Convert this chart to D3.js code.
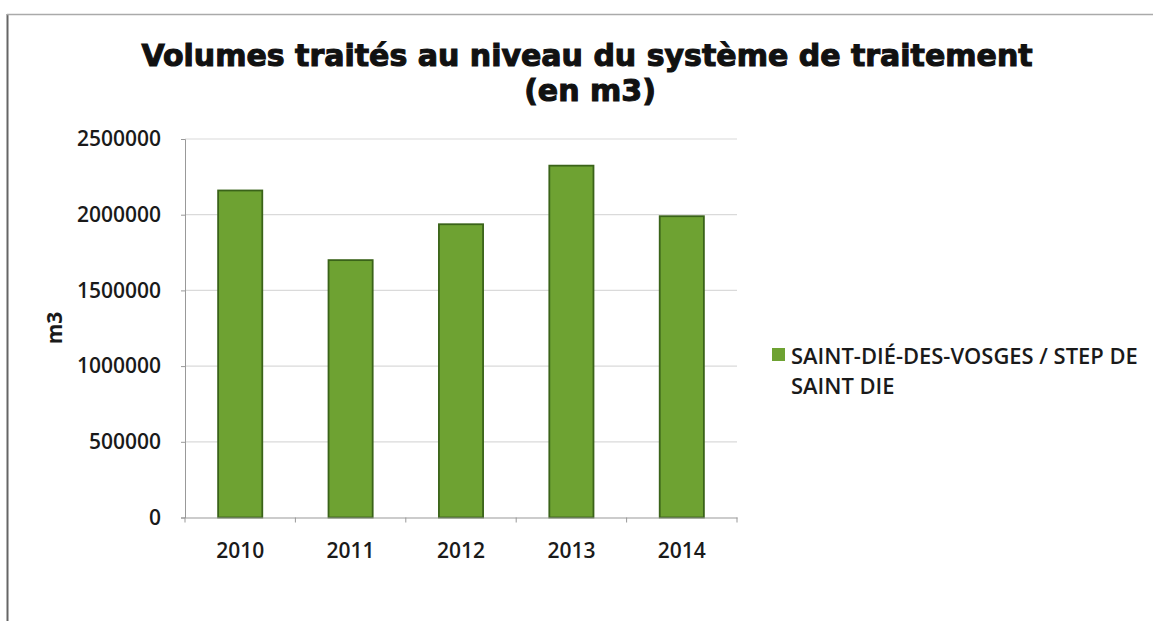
<!DOCTYPE html>
<html>
<head>
<meta charset="utf-8">
<script src="https://cdn.jsdelivr.net/npm/d3@7"></script>
<style>
	body { margin: 0; background: #fff; }
	svg { display: block; }
</style>
</head>
<body>
<svg id="chart" width="1153" height="621"></svg>
<script>
const years = ["2010", "2011", "2012", "2013", "2014"];
const volumes = [2160000, 1700000, 1937000, 2324000, 1990000];
const yTicks = [0, 500000, 1000000, 1500000, 2000000, 2500000];
const titleLines = ["Volumes traités au niveau du système de traitement", "(en m3)"];
const legendLines = ["SAINT-DIÉ-DES-VOSGES / STEP DE", "SAINT DIE"];
const yTitle = "m3";

const svg = d3.select("#chart");
const plot = { left: 185, right: 737, top: 139, bottom: 517.5 };

// frame of the chart area
svg.append("line")
	.attr("x1", 7.5).attr("x2", 7.5).attr("y1", 14).attr("y2", 621)
	.attr("stroke", "#666").attr("stroke-width", 2);
svg.append("line")
	.attr("x1", 7).attr("x2", 1153).attr("y1", 14.5).attr("y2", 14.5)
	.attr("stroke", "#aaa").attr("stroke-width", 1.5);

const x = d3.scaleBand().domain(years).range([plot.left, plot.right]).paddingInner(0.6).paddingOuter(0.3);
const xBand = d3.scaleBand().domain(years).range([plot.left, plot.right]);
const y = d3.scaleLinear().domain([0, 2500000]).range([plot.bottom, plot.top]);

// grid
svg.append("g")
	.selectAll("line")
	.data(yTicks.slice(1))
	.enter().append("line")
	.attr("x1", plot.left).attr("x2", plot.right)
	.attr("y1", d => y(d)).attr("y2", d => y(d))
	.attr("stroke", "#dadada").attr("stroke-width", 1.2);

// bars
svg.append("g")
	.selectAll("rect")
	.data(volumes)
	.enter().append("rect")
	.attr("x", (d, i) => x(years[i]))
	.attr("y", d => y(d))
	.attr("width", x.bandwidth())
	.attr("height", d => y(0) - y(d))
	.attr("fill", "#6ea232")
	.attr("stroke", "#3a6319")
	.attr("stroke-width", 1.8);

// y axis
const yAxis = d3.axisLeft(y).tickValues(yTicks).tickSize(4).tickFormat(d3.format("d")).tickPadding(20);
const gy = svg.append("g").attr("transform", `translate(${plot.left},0)`).call(yAxis);
gy.select(".domain").attr("stroke", "#999");
gy.selectAll(".tick line").attr("stroke", "#999");
gy.selectAll("text")
	.attr("fill", "#1a1a1a")
	.style("font-family", "'Open Sans', sans-serif")
	.style("font-weight", 600)
	.style("font-size", "21px");

// x axis
const xAxis = d3.axisBottom(xBand).tickSize(0).tickPadding(26);
const gx = svg.append("g").attr("transform", `translate(0,${plot.bottom})`).call(xAxis);
gx.select(".domain").attr("stroke", "#999");
gx.selectAll("text")
	.attr("fill", "#1a1a1a")
	.style("font-family", "'Open Sans', sans-serif")
	.style("font-weight", 600)
	.style("font-size", "21px");
gx.append("g")
	.selectAll("line")
	.data(years.concat(["end"]))
	.enter().append("line")
	.attr("x1", (d, i) => plot.left + i * xBand.bandwidth())
	.attr("x2", (d, i) => plot.left + i * xBand.bandwidth())
	.attr("y1", 0).attr("y2", 5)
	.attr("stroke", "#999");

// y title
svg.append("text")
	.attr("transform", "translate(62,328) rotate(-90)")
	.attr("text-anchor", "middle")
	.attr("fill", "#1a1a1a")
	.style("font-family", "'Open Sans', sans-serif")
	.style("font-weight", 700)
	.style("font-size", "21px")
	.text(yTitle);

// title (heavy face: bold plus a thin stroke)
const title = svg.append("text")
	.attr("text-anchor", "middle")
	.attr("fill", "#111")
	.attr("stroke", "#111")
	.attr("stroke-width", 1.1)
	.style("font-family", "'DejaVu Sans', sans-serif")
	.style("font-weight", 700)
	.style("font-size", "28px");
title.selectAll("tspan")
	.data(titleLines)
	.enter().append("tspan")
	.attr("x", (d, i) => i === 0 ? 587 : 590)
	.attr("y", (d, i) => 66 + i * 35)
	.text(d => d);
const firstLine = title.select("tspan").node();
const w = firstLine.getComputedTextLength();
if (w > 0) title.style("font-size", Math.min(30, 28 * 898 / w) + "px");

// legend
svg.append("rect")
	.attr("x", 772).attr("y", 348).attr("width", 13).attr("height", 13)
	.attr("fill", "#6ea232");
const legend = svg.append("text")
	.attr("fill", "#1a1a1a")
	.style("font-family", "'Open Sans', sans-serif")
	.style("font-weight", 600)
	.style("font-size", "18px");
legend.selectAll("tspan")
	.data(legendLines)
	.enter().append("tspan")
	.attr("x", 791)
	.attr("y", (d, i) => 364 + i * 30)
	.text(d => d);
const lw = legend.select("tspan").node().getComputedTextLength();
if (lw > 0) legend.style("font-size", (18 * 347 / lw) + "px");
</script>
</body>
</html>
